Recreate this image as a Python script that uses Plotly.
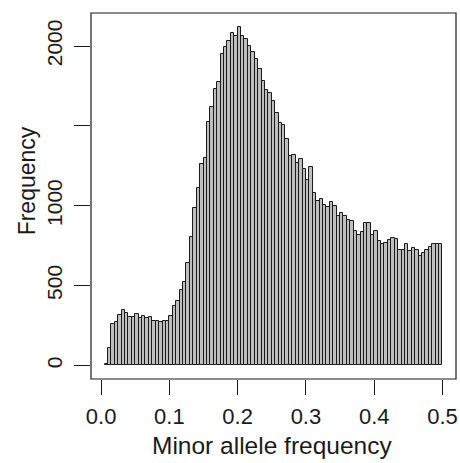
import numpy as np
import plotly.graph_objects as go

# Histogram bin left edges (bin width 0.005) and counts
bin_width = 0.005
bin_left = np.round(np.arange(0.005, 0.5, bin_width), 3)
counts = [
    8, 107, 258, 269, 314, 348, 327, 306, 302, 325,
    294, 310, 294, 302, 281, 278, 273, 276, 279, 310,
    370, 404, 474, 523, 641, 807, 983, 1113, 1264, 1301,
    1525, 1619, 1733, 1777, 1951, 1995, 2034, 2084, 2065, 2122,
    2065, 2044, 2003, 1961, 1917, 1857, 1782, 1725, 1706, 1654,
    1579, 1517, 1505, 1420, 1313, 1318, 1270, 1293, 1229, 1160,
    1243, 1077, 1027, 1043, 1003, 993, 1026, 1001, 933, 956,
    933, 913, 904, 842, 819, 838, 892, 892, 819, 841,
    778, 762, 764, 788, 799, 790, 724, 726, 762, 718,
    736, 724, 684, 707, 724, 744, 760, 761, 761,
]
x_ticks = [0.0, 0.1, 0.2, 0.3, 0.4, 0.5]
x_ticktext = ["0.0", "0.1", "0.2", "0.3", "0.4", "0.5"]
y_ticks = [0, 500, 1000, 1500, 2000]
y_ticktext = ["0", "500", "1000", "", "2000"]
x_title = "Minor allele frequency"
y_title = "Frequency"

centers = bin_left + bin_width / 2
ymax = max(counts)
xmin, xmax = 0.005, 0.5

FONT = "Liberation Sans, Arial, Helvetica, sans-serif"

fig = go.Figure()
fig.add_trace(go.Bar(
    x=centers, y=counts, width=bin_width,
    marker=dict(color="#bebebe", line=dict(color="#1a1a1a", width=1)),
    hoverinfo="x+y",
))

fig.update_layout(
    width=460, height=463,
    margin=dict(l=91, r=2, t=13, b=84),
    paper_bgcolor="white", plot_bgcolor="white",
    showlegend=False, bargap=0,
    font=dict(family=FONT, color="#1a1a1a", size=21),
    shapes=[dict(type="rect", xref="paper", yref="paper", x0=0, y0=0, x1=1, y1=1,
                 line=dict(color="#1a1a1a", width=1.2), fillcolor="rgba(0,0,0,0)")],
    annotations=[
        dict(text=x_title, xref="paper", yref="paper", x=(273 - 91) / 367, y=-(445 - 379) / 366,
             xanchor="center", yanchor="middle", showarrow=False, font=dict(size=24.5)),
        dict(text=y_title, xref="paper", yref="paper", x=-(91 - 27) / 367, y=(379 - 181) / 366,
             xanchor="center", yanchor="middle", showarrow=False, textangle=-90, font=dict(size=23)),
    ],
)
xr = xmax - xmin
fig.update_xaxes(
    range=[xmin - 0.04 * xr, xmax + 0.04 * xr],
    tickvals=x_ticks, ticktext=x_ticktext,
    ticks="outside", ticklen=15, tickwidth=1.2, tickcolor="#1a1a1a",
    showgrid=False, zeroline=False, showline=False,
    tickfont=dict(size=22), ticklabelstandoff=3,
)
fig.update_yaxes(
    range=[-0.04 * ymax, 1.04 * ymax],
    tickvals=y_ticks, ticktext=y_ticktext, tickangle=-90,
    ticks="outside", ticklen=16, tickwidth=1.2, tickcolor="#1a1a1a",
    showgrid=False, zeroline=False, showline=False,
    tickfont=dict(size=21), ticklabelstandoff=4,
)

fig.write_html(
    "out.html",
    config={"displayModeBar": False},
    post_script="document.body.style.margin='0';document.body.style.overflow='hidden';",
)
